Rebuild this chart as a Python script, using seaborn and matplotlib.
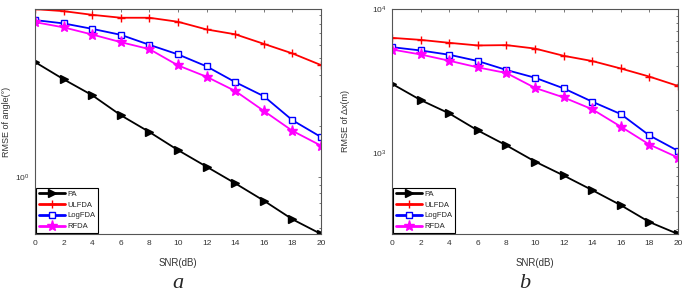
import numpy as np
import pandas as pd
import matplotlib
matplotlib.use("Agg")
import matplotlib.pyplot as plt
import matplotlib.ticker as mticker
import seaborn as sns

snr = [0, 2, 4, 6, 8, 10, 12, 14, 16, 18, 20]
methods = ["PA", "ULFDA", "LogFDA", "RFDA"]

# Panel a: RMSE of angle (deg)
angle_pa = [4.75, 3.76, 3.03, 2.31, 1.84, 1.44, 1.15, 0.918, 0.726, 0.564, 0.462]
angle_ulfda = [9.73, 9.47, 9.01, 8.66, 8.66, 8.20, 7.39, 6.92, 6.08, 5.34, 4.56]
angle_logfda = [8.39, 8.02, 7.45, 6.87, 6.00, 5.27, 4.48, 3.62, 2.99, 2.16, 1.72]
angle_rfda = [8.16, 7.60, 6.90, 6.22, 5.66, 4.54, 3.89, 3.21, 2.45, 1.87, 1.53]

# Panel b: RMSE of delta x (m)
dx_pa = [3030, 2340, 1890, 1440, 1135, 877, 702, 556, 437, 334, 276]
dx_ulfda = [6310, 6110, 5830, 5590, 5620, 5320, 4740, 4360, 3870, 3400, 2930]
dx_logfda = [5440, 5160, 4820, 4360, 3780, 3340, 2820, 2280, 1870, 1330, 1040]
dx_rfda = [5240, 4840, 4380, 3940, 3600, 2840, 2440, 2020, 1530, 1150, 934]

sns.set_style("white")
plt.rcParams["font.family"] = ["Liberation Sans", "DejaVu Sans"]
plt.rcParams["mathtext.fontset"] = "custom"
plt.rcParams["mathtext.rm"] = "Liberation Sans"

styles = {
    "PA": dict(color="black", marker=">", ms=6, mfc="black", mec="black"),
    "ULFDA": dict(color="red", marker="+", ms=5.5, mfc="red", mec="red"),
    "LogFDA": dict(color="blue", marker="s", ms=4.5, mfc="white", mec="blue"),
    "RFDA": dict(color="magenta", marker="*", ms=8, mfc="magenta", mec="magenta"),
}


def make_df(vals):
    rows = []
    for m, v in zip(methods, vals):
        for s, y in zip(snr, v):
            rows.append({"SNR": s, "val": y, "method": m})
    return pd.DataFrame(rows)


fig = plt.figure(figsize=(6.85, 2.95), dpi=100)
ax_a = fig.add_axes([35 / 685, 1 - 234 / 295, 286 / 685, 225 / 295])
ax_b = fig.add_axes([392 / 685, 1 - 234 / 295, 286 / 685, 225 / 295])

panels = [
    (ax_a, [angle_pa, angle_ulfda, angle_logfda, angle_rfda], (0.462, 9.75),
     "RMSE of angle(°)", "a", 178 / 685, -0.085),
    (ax_b, [dx_pa, dx_ulfda, dx_logfda, dx_rfda], (276, 10000),
     "RMSE of Δx(m)", "b", 525 / 685, -0.148),
]

for ax, vals, ylim, ylab, cap, capx, labx in panels:
    df = make_df(vals)
    for m in methods:
        st = styles[m]
        sns.lineplot(data=df[df.method == m], x="SNR", y="val", ax=ax,
                     color=st["color"], marker=st["marker"], markersize=st["ms"],
                     markerfacecolor=st["mfc"], markeredgecolor=st["mec"],
                     markeredgewidth=1.0, linewidth=1.3, label=m, errorbar=None)
    ax.set_yscale("log")
    ax.set_xlim(0, 20)
    ax.set_ylim(*ylim)
    ax.set_xticks(range(0, 21, 2))
    ax.yaxis.set_major_locator(mticker.LogLocator(base=10))
    ax.yaxis.set_minor_locator(mticker.LogLocator(base=10, subs=np.arange(2, 10)))
    ax.yaxis.set_minor_formatter(mticker.NullFormatter())
    ax.tick_params(which="both", direction="in", top=True, right=True,
                   labelsize=6, colors="#444444", labelcolor="#333333",
                   length=2.5, width=0.5, pad=4)
    ax.tick_params(which="minor", length=1.5)
    for sp in ax.spines.values():
        sp.set_color("#555555")
        sp.set_linewidth(0.8)
    ax.set_xlabel("SNR(dB)", fontsize=7, color="#333333", labelpad=8)
    ax.set_ylabel(ylab, fontsize=6.5, color="#333333")
    ax.yaxis.set_label_coords(labx, 0.5)
    leg = ax.legend(loc="lower left", fontsize=5.5, frameon=True, fancybox=False,
                    edgecolor="black", framealpha=1, handlelength=3.4,
                    borderpad=0.35, labelspacing=0.45, handletextpad=0.3,
                    borderaxespad=0.15)
    leg.get_frame().set_linewidth(0.8)
    for line in leg.get_lines():
        line.set_linewidth(2.0)
    fig.text(capx, 1 - 284 / 295, cap, ha="center", va="center",
             fontsize=16, style="italic", family="Liberation Serif")

fig.savefig("out.png", dpi=100)
